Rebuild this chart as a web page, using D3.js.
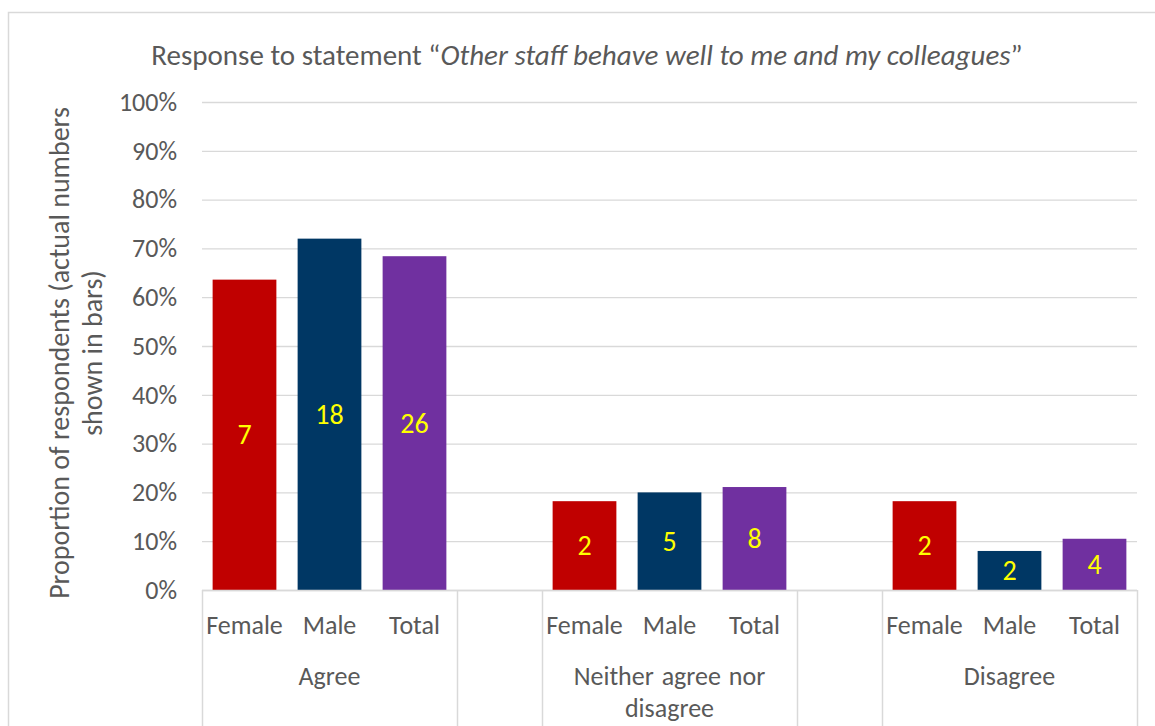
<!DOCTYPE html>
<html>
<head>
<meta charset="utf-8">
<script src="https://cdn.jsdelivr.net/npm/d3@7"></script>
<style>
  html, body { margin: 0; padding: 0; background: #fff; }
  svg text { font-family: Carlito, Calibri, Lato, "Open Sans", sans-serif; fill: #595959; }
</style>
</head>
<body>
<svg id="chart" width="1155" height="726"></svg>
<script>
// Response categories (level 2 of the category axis) and respondent groups (level 1)
const responses = ["Agree", "Neither agree nor disagree", "Disagree"];
const genders = ["Female", "Male", "Total"];

// Share of respondents, in percent, per response and group
const agreeShare = [63.6, 72.0, 68.4];
const neitherShare = [18.2, 20.0, 21.1];
const disagreeShare = [18.2, 8.0, 10.5];

// Actual numbers of respondents, printed inside the bars
const agreeCount = [7, 18, 26];
const neitherCount = [2, 5, 8];
const disagreeCount = [2, 2, 4];

const yTicks = [0, 10, 20, 30, 40, 50, 60, 70, 80, 90, 100];
const barColors = ["#C00000", "#003764", "#7030A0"];

const shares = [agreeShare, neitherShare, disagreeShare];
const counts = [agreeCount, neitherCount, disagreeCount];

// Flatten to one row per bar; a blank slot separates each response block
const slots = [];
const rows = [];
responses.forEach((r, ri) => {
  genders.forEach((g, gi) => {
    const key = r + "|" + g;
    slots.push(key);
    rows.push({ key, response: r, gender: g, gi, share: shares[ri][gi], count: counts[ri][gi] });
  });
  if (ri < responses.length - 1) slots.push("gap" + ri);
});

const svg = d3.select("#chart");
const plotLeft = 202, plotRight = 1137, plotTop = 102, plotBottom = 590;

// Outer chart border
svg.append("rect")
  .attr("x", 8.5).attr("y", 12.5).attr("width", 1300).attr("height", 900)
  .attr("fill", "none").attr("stroke", "#D9D9D9").attr("stroke-width", 1.5);

const x = d3.scaleBand().domain(slots).range([plotLeft, plotRight])
  .paddingInner(0.25).paddingOuter(0.125);
const y = d3.scaleLinear().domain([0, 100]).range([plotBottom, plotTop]);

// Gridlines and percentage labels
const yAxis = svg.append("g")
  .attr("transform", `translate(${plotLeft},0)`)
  .call(d3.axisLeft(y).tickValues(yTicks).tickFormat(d => d + "%")
    .tickSize(-(plotRight - plotLeft)).tickPadding(25));
yAxis.select(".domain").remove();
yAxis.selectAll(".tick line").attr("stroke", "#D9D9D9").attr("stroke-width", 1.3);
yAxis.selectAll(".tick text").style("font-size", "26px").attr("fill", "#595959");

// Bars
svg.append("g").selectAll("rect").data(rows).join("rect")
  .attr("x", d => x(d.key))
  .attr("width", x.bandwidth())
  .attr("y", d => y(d.share))
  .attr("height", d => y(0) - y(d.share))
  .attr("fill", d => barColors[d.gi]);

// Counts at the middle of each bar
svg.append("g").selectAll("text").data(rows).join("text")
  .attr("x", d => x(d.key) + x.bandwidth() / 2)
  .attr("y", d => (y(d.share) + y(0)) / 2)
  .attr("text-anchor", "middle").attr("dominant-baseline", "central")
  .style("font-size", "28px").style("fill", "#FFFF00")
  .text(d => d.count);

// Category axis baseline
svg.append("line")
  .attr("x1", plotLeft).attr("x2", plotRight).attr("y1", plotBottom + 0.5).attr("y2", plotBottom + 0.5)
  .attr("stroke", "#D9D9D9").attr("stroke-width", 1.5);

// Separators between response blocks (multi-level axis)
const step = x.step();
const bounds = [plotLeft];
slots.forEach(s => {
  if (s.startsWith("gap")) {
    const gx = x(s) - x.paddingInner() * step / 2;
    bounds.push(gx, gx + step);
  }
});
bounds.push(plotRight);
svg.append("g").selectAll("line").data(bounds).join("line")
  .attr("x1", d => Math.round(d) + 0.5).attr("x2", d => Math.round(d) + 0.5)
  .attr("y1", plotBottom).attr("y2", 726)
  .attr("stroke", "#D9D9D9").attr("stroke-width", 1.5);

// Level 1 labels: groups
svg.append("g").selectAll("text").data(rows).join("text")
  .attr("x", d => x(d.key) + x.bandwidth() / 2)
  .attr("y", 625)
  .attr("text-anchor", "middle").attr("dominant-baseline", "central")
  .style("font-size", "26px")
  .text(d => d.gender);

// Level 2 labels: responses, wrapped to two lines where needed
const responseLines = {
  "Agree": ["Agree"],
  "Neither agree nor disagree": ["Neither agree nor", "disagree"],
  "Disagree": ["Disagree"]
};
responses.forEach(r => {
  const x0 = x(r + "|Female") - x.paddingInner() * step / 2;
  const x1 = x(r + "|Total") + x.bandwidth() + x.paddingInner() * step / 2;
  const t = svg.append("text")
    .attr("x", (x0 + x1) / 2).attr("y", 676)
    .attr("text-anchor", "middle").attr("dominant-baseline", "central")
    .style("font-size", "26px").style("word-spacing", "2px");
  responseLines[r].forEach((line, i) => {
    t.append("tspan").attr("x", (x0 + x1) / 2).attr("dy", i === 0 ? 0 : 32).text(line);
  });
});

// Title with the quoted statement in italics
const title = svg.append("text")
  .attr("x", 587).attr("y", 55)
  .attr("text-anchor", "middle").attr("dominant-baseline", "central")
  .style("font-size", "29px");
title.append("tspan").text("Response to statement \u201C");
title.append("tspan").style("font-style", "italic").text("Other staff behave well to me and my colleagues");
title.append("tspan").text("\u201D");

// Value axis title, two lines, rotated
const yTitle = svg.append("text")
  .attr("transform", "translate(76,353) rotate(-90)")
  .attr("text-anchor", "middle")
  .style("font-size", "28px");
yTitle.append("tspan").attr("x", 0).attr("y", -7).text("Proportion of respondents (actual numbers");
yTitle.append("tspan").attr("x", 0).attr("y", 26).text("shown in bars)");
</script>
</body>
</html>
